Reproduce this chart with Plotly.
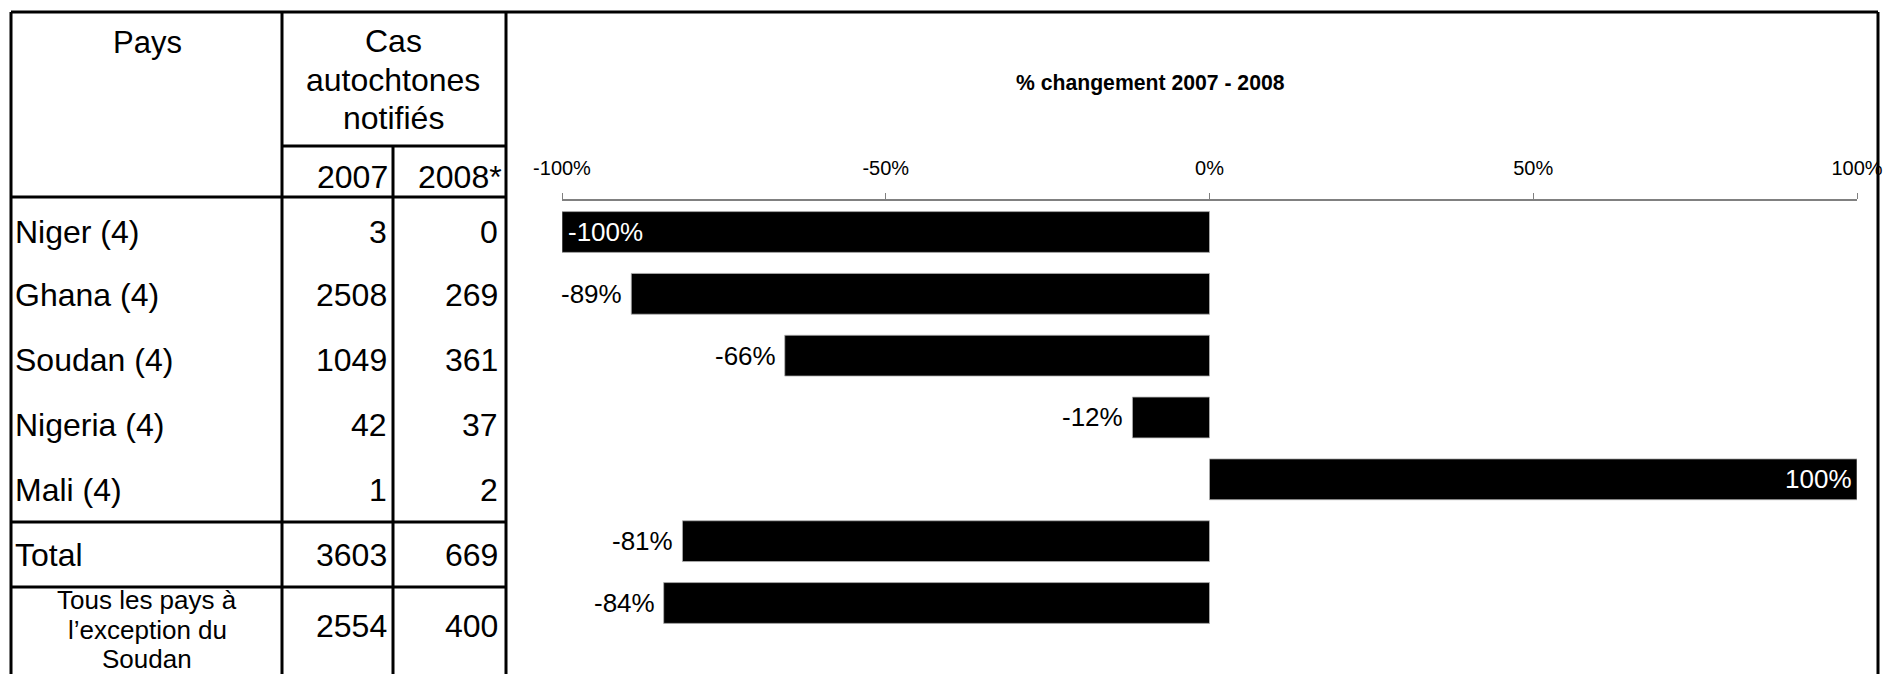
import plotly.graph_objects as go

# ---- data ----
pays = ["Niger (4)", "Ghana (4)", "Soudan (4)", "Nigeria (4)", "Mali (4)", "Total",
        "Tous les pays à<br>l’exception du<br>Soudan"]
cas_2007 = [3, 2508, 1049, 42, 1, 3603, 2554]
cas_2008 = [0, 269, 361, 37, 2, 669, 400]
pct_change = [-1.0, -0.893, -0.656, -0.119, 1.0, -0.814, -0.843]
pct_labels = ["-100%", "-89%", "-66%", "-12%", "100%", "-81%", "-84%"]
tick_vals = [-1.0, -0.5, 0.0, 0.5, 1.0]
tick_text = ["-100%", "-50%", "0%", "50%", "100%"]
header_pays = "Pays"
header_cas = ["Cas", "autochtones", "notifiés"]
year_headers = ["2007", "2008*"]
chart_title = "% changement 2007 - 2008"

W, H = 1885, 674
FONT = "Liberation Sans, Arial, sans-serif"

def px(x):
    return x / W

def py(y):
    return 1 - y / H

cats = list(range(len(pays)))
# bar row geometry (pixels from top)
row0, step = 232.0, 61.83
y_top_val = -row0 / step
y_bot_val = (H - row0) / step

fig = go.Figure()
fig.add_trace(go.Bar(
    x=pct_change, y=cats, orientation="h",
    marker=dict(color="black", line=dict(color="#b0b0b0", width=0.8)),
    width=0.66, hoverinfo="skip", cliponaxis=False,
))

fig.update_layout(
    width=W, height=H,
    margin=dict(l=0, r=0, t=0, b=0, pad=0, autoexpand=False),
    paper_bgcolor="white", plot_bgcolor="rgba(0,0,0,0)",
    showlegend=False, font=dict(family=FONT, color="black"),
    xaxis=dict(
        domain=[px(562), px(1857)], range=[-1, 1], side="top",
        anchor="free", position=py(200), automargin=False,
        tickvals=tick_vals, ticktext=tick_text,
        ticks="outside", ticklen=6, tickcolor="#808080", tickwidth=1,
        showline=True, linecolor="#808080", linewidth=1.5,
        showgrid=False, zeroline=False,
        tickfont=dict(size=20, family=FONT, color="black"),
        ticklabelstandoff=10,
    ),
    yaxis=dict(
        domain=[0, 1], range=[y_bot_val, y_top_val], automargin=False,
        showticklabels=False, showgrid=False, zeroline=False, showline=False,
        ticks="",
    ),
)

# ---- table lines ----
lw = 3
lines = [
    (11, 12, 1878, 12),      # top border
    (11, 12, 11, H + 5),     # left border
    (1878, 12, 1878, H + 5), # right border
    (282, 12, 282, H + 5),
    (506, 12, 506, H + 5),
    (393, 146, 393, H + 5),
    (282, 146, 506, 146),
    (11, 197, 506, 197),
    (11, 522, 506, 522),
    (11, 587, 506, 587),
]
for x0, y0, x1, y1 in lines:
    fig.add_shape(type="line", xref="paper", yref="paper",
                  x0=px(x0), y0=py(y0), x1=px(x1), y1=py(y1),
                  line=dict(color="black", width=lw))

ann = []
def add_text(x, y, t, size, xanchor="center"):
    ann.append(dict(x=px(x), y=py(y), xref="paper", yref="paper", text=t,
                    showarrow=False, xanchor=xanchor, yanchor="middle",
                    font=dict(size=size, family=FONT, color="black"),
                    align="center"))

TS = 32
add_text(147, 42, header_pays, 31)
for k, line in enumerate(header_cas):
    add_text(393, 41 + 38.5 * k, line, TS)
add_text(390, 177, year_headers[0], TS, xanchor="right")
add_text(504, 177, year_headers[1], TS, xanchor="right")

row_y = [232, 295, 360, 425, 490, 555, 626]
for i, name in enumerate(pays):
    yy = row_y[i]
    if i == len(pays) - 1:
        for k, part in enumerate(name.split("<br>")):
            add_text(147, 600 + 29.5 * k, part, 26)
    else:
        add_text(13, yy, name, TS, xanchor="left")
    add_text(389, yy, str(cas_2007[i]), TS, xanchor="right")
    add_text(500, yy, str(cas_2008[i]), TS, xanchor="right")

add_text(1150, 83, "<b>" + chart_title + "</b>", 21.2)

# bar value labels, placed through the axes
for i, (v, lab) in enumerate(zip(pct_change, pct_labels)):
    inside = abs(v) >= 0.99
    if inside:
        xanchor = "left" if v < 0 else "right"
        shift = 4 if v < 0 else -3
        col = "white"
    else:
        xanchor = "right" if v < 0 else "left"
        shift = -7 if v < 0 else 7
        col = "black"
    ann.append(dict(x=v, y=cats[i], xref="x", yref="y", text=lab,
                    showarrow=False, xanchor=xanchor, yanchor="middle",
                    xshift=shift,
                    font=dict(size=26, family=FONT, color=col)))

fig.update_layout(annotations=ann)
fig.write_html("out.html")
